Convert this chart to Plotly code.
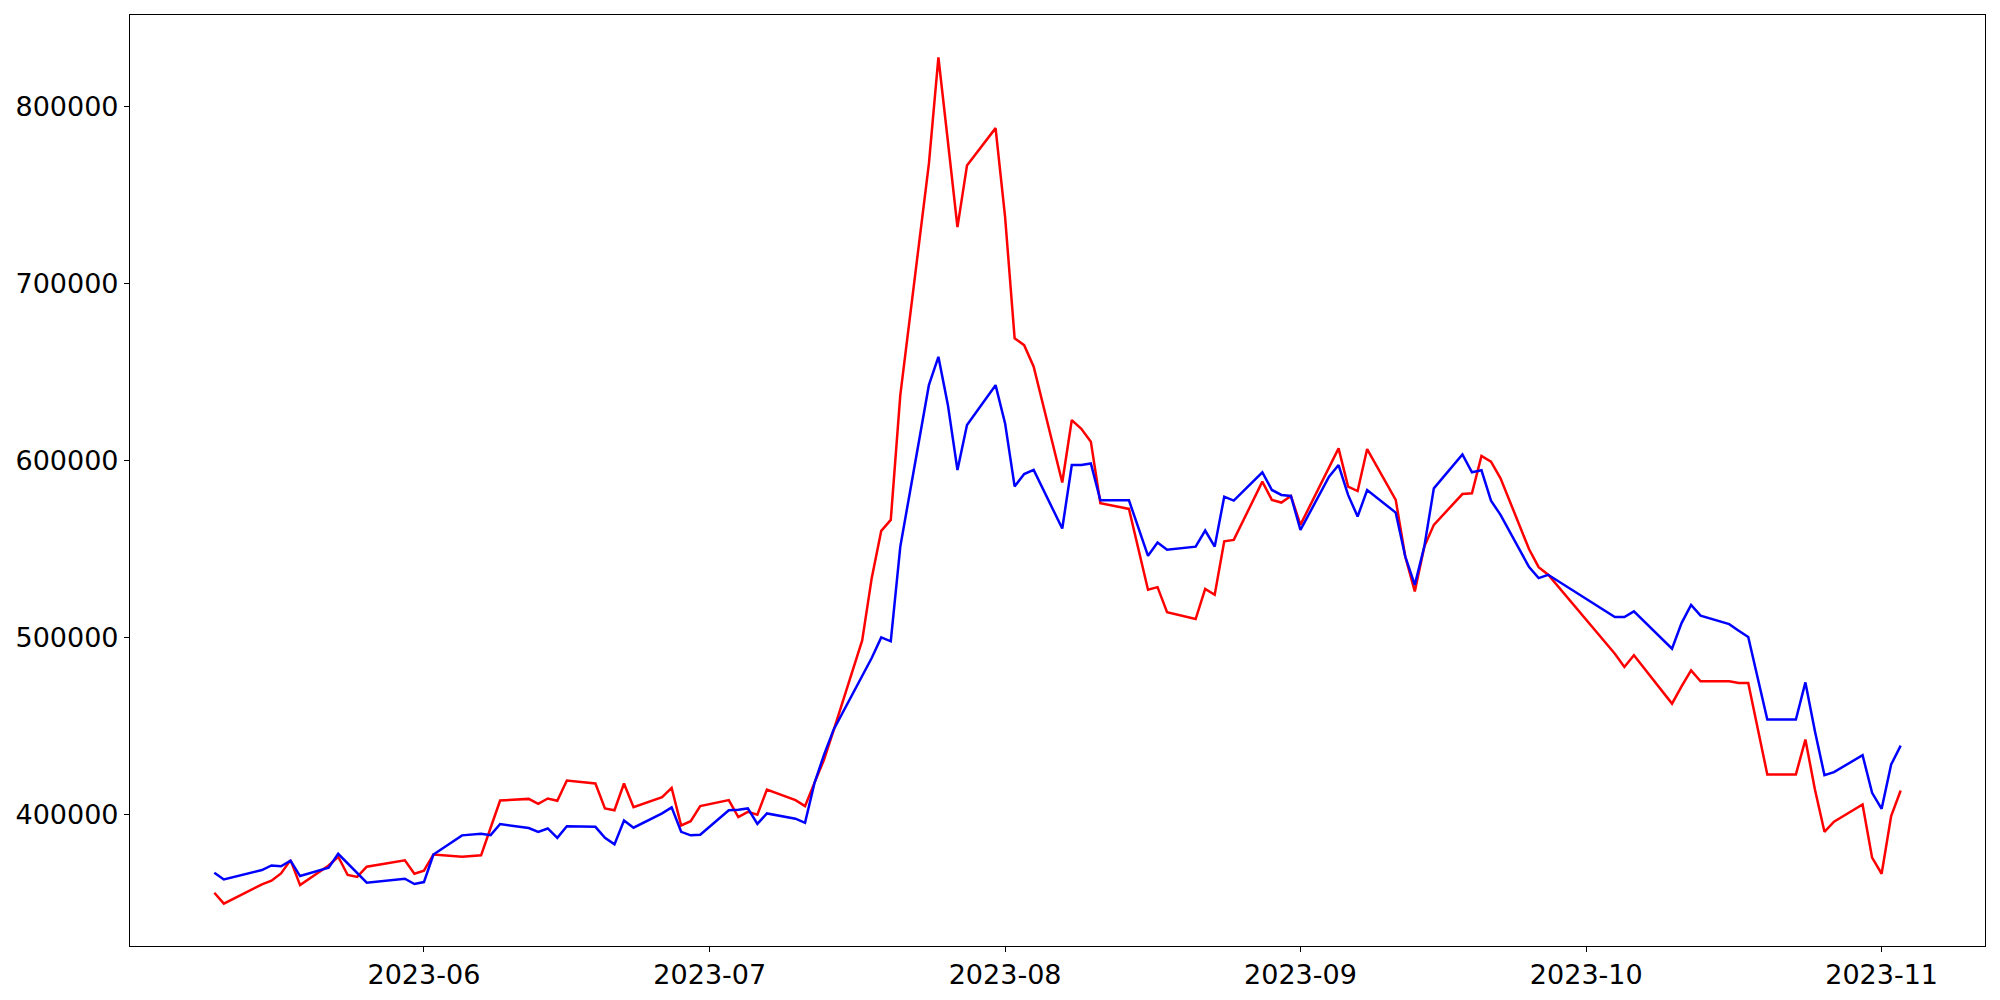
import plotly.graph_objects as go
import pandas as pd

dates = [
    "2023-05-10", "2023-05-11", "2023-05-15", "2023-05-16", "2023-05-17", "2023-05-18", "2023-05-19",
    "2023-05-22", "2023-05-23", "2023-05-24", "2023-05-25", "2023-05-26", "2023-05-30", "2023-05-31",
    "2023-06-01", "2023-06-02", "2023-06-05", "2023-06-07", "2023-06-08", "2023-06-09", "2023-06-12",
    "2023-06-13", "2023-06-14", "2023-06-15", "2023-06-16", "2023-06-19", "2023-06-20", "2023-06-21",
    "2023-06-22", "2023-06-23", "2023-06-26", "2023-06-27", "2023-06-28", "2023-06-29", "2023-06-30",
    "2023-07-03", "2023-07-04", "2023-07-05", "2023-07-06", "2023-07-07", "2023-07-10", "2023-07-11",
    "2023-07-12", "2023-07-13", "2023-07-14", "2023-07-17", "2023-07-18", "2023-07-19", "2023-07-20",
    "2023-07-21", "2023-07-24", "2023-07-25", "2023-07-26", "2023-07-27", "2023-07-28", "2023-07-31",
    "2023-08-01", "2023-08-02", "2023-08-03", "2023-08-04", "2023-08-07", "2023-08-08", "2023-08-09",
    "2023-08-10", "2023-08-11", "2023-08-14", "2023-08-16", "2023-08-17", "2023-08-18", "2023-08-21",
    "2023-08-22", "2023-08-23", "2023-08-24", "2023-08-25", "2023-08-28", "2023-08-29", "2023-08-30",
    "2023-08-31", "2023-09-01", "2023-09-04", "2023-09-05", "2023-09-06", "2023-09-07", "2023-09-08",
    "2023-09-11", "2023-09-12", "2023-09-13", "2023-09-14", "2023-09-15", "2023-09-18", "2023-09-19",
    "2023-09-20", "2023-09-21", "2023-09-22", "2023-09-25", "2023-09-26", "2023-09-27", "2023-10-04",
    "2023-10-05", "2023-10-06", "2023-10-10", "2023-10-11", "2023-10-12", "2023-10-13", "2023-10-16",
    "2023-10-17", "2023-10-18", "2023-10-20", "2023-10-23", "2023-10-24", "2023-10-25", "2023-10-26",
    "2023-10-27", "2023-10-30", "2023-10-31", "2023-11-01", "2023-11-02", "2023-11-03",
]

red_values = [
    355800, 349600, 360500, 362600, 366700, 374200, 360100,
    371200, 376100, 365800, 364700, 370500, 374100, 366500,
    368200, 377400, 376100, 376900, 392500, 407900, 408800,
    406000, 409000, 407700, 419200, 417500, 403400, 402400,
    417500, 404100, 409800, 415000, 393800, 396200, 404700,
    408100, 398500, 401500, 399800, 414100, 408100, 404700,
    418000, 431000, 447500, 498300, 533500, 560200, 566400,
    636900, 767500, 827700, 780000, 731800, 766600, 787700,
    737500, 669000, 665100, 652900, 587500, 622800, 617900,
    610600, 575800, 572600, 526900, 528400, 514300, 510400,
    527400, 524100, 554300, 555100, 588000, 577700, 576200,
    579900, 563600, 596500, 606800, 585200, 582700, 606400,
    577700, 545700, 526000, 551300, 563600, 581000, 581400,
    602500, 599300, 589900, 549800, 539700, 535400, 490800,
    483300, 489900, 462600, 472400, 481400, 475200, 475200,
    474300, 474300, 422600, 422600, 442300, 414100, 390200,
    395900, 405600, 375600, 366500, 399100, 413500,
]

blue_values = [
    367100, 363300, 368600, 371200, 370700, 373900, 365200,
    369900, 377800, 372400, 366900, 361500, 363700, 360700,
    361800, 377400, 388200, 389100, 388300, 394600, 392300,
    390200, 392100, 386800, 393400, 393000, 386800, 383100,
    396600, 392500, 400600, 404000, 390200, 388200, 388500,
    402400, 402700, 403400, 394700, 400600, 397600, 395300,
    417900, 433800, 447900, 477800, 488400, 500000, 497800,
    551300, 642500, 658500, 631200, 594600, 620000, 642500,
    620900, 585300, 592300, 594600, 561500, 597400, 597400,
    598300, 577500, 577500, 546100, 553600, 549500, 551300,
    560400, 551300, 579500, 577300, 593300, 583300, 580500,
    579900, 560700, 590800, 597400, 580500, 568300, 583300,
    570500, 545700, 529700, 551300, 584200, 603400, 593300,
    594400, 577300, 569200, 539700, 533500, 535400, 511500,
    511500, 514700, 493600, 508100, 518400, 512300, 507500,
    503800, 500200, 453600, 453600, 474600, 447000, 422200,
    423900, 433500, 412200, 403200, 428200, 438900,
]

x_tick_dates = ["2023-06-01", "2023-07-01", "2023-08-01", "2023-09-01", "2023-10-01", "2023-11-01"]
x_tick_labels = ["2023-06", "2023-07", "2023-08", "2023-09", "2023-10", "2023-11"]
y_tick_values = [400000, 500000, 600000, 700000, 800000]
y_tick_labels = ["400000", "500000", "600000", "700000", "800000"]

dt = pd.to_datetime(dates)
x0, x1 = dt.min(), dt.max()
xpad = (x1 - x0) * 0.05
all_vals = red_values + blue_values
ymin, ymax = min(all_vals), max(all_vals)
ypad = (ymax - ymin) * 0.05

fig = go.Figure()
fig.add_trace(go.Scatter(x=dt, y=red_values, mode="lines",
                         line=dict(color="#ff0000", width=2.5), showlegend=False))
fig.add_trace(go.Scatter(x=dt, y=blue_values, mode="lines",
                         line=dict(color="#0000ff", width=2.5), showlegend=False))

axis_common = dict(showline=True, linecolor="black", linewidth=1.1, mirror=True,
                   showgrid=False, zeroline=False, ticks="outside", ticklen=5,
                   tickwidth=1.1, tickcolor="black", automargin=False,
                   tickfont=dict(family="DejaVu Sans", size=27, color="black"))

fig.update_layout(
    width=2000, height=1000,
    margin=dict(l=122, r=23, t=7, b=62),
    paper_bgcolor="white", plot_bgcolor="white",
    xaxis=dict(range=[x0 - xpad, x1 + xpad], tickmode="array",
               tickvals=pd.to_datetime(x_tick_dates), ticktext=x_tick_labels, **axis_common),
    yaxis=dict(range=[ymin - ypad, ymax + ypad], tickmode="array",
               tickvals=y_tick_values, ticktext=y_tick_labels, **axis_common),
)

fig.write_html("out.html")
